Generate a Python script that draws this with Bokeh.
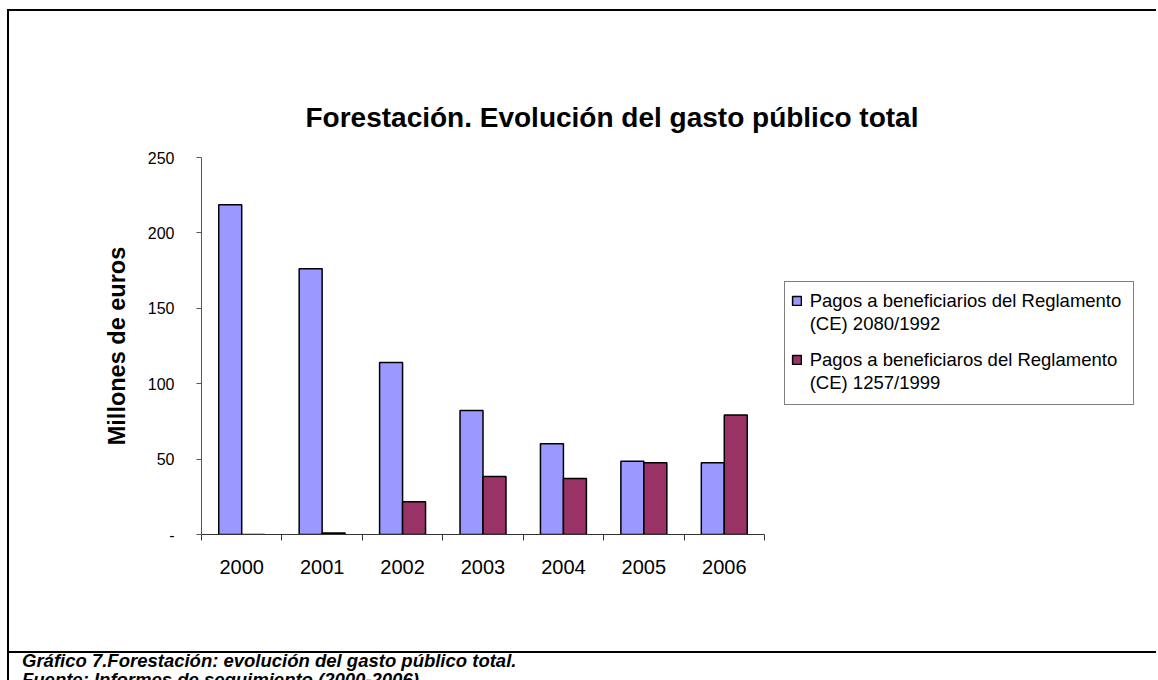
import numpy as np
from bokeh.plotting import figure
from bokeh.layouts import column
from bokeh.models import (Range1d, FixedTicker, Legend, LegendItem, Title, Div,
                          ColumnDataSource)
from bokeh.embed import file_html
from bokeh.resources import INLINE

# ---------------- data ----------------
years = ["2000", "2001", "2002", "2003", "2004", "2005", "2006"]
pagos_2080_1992 = [218.6, 176.3, 114.0, 82.2, 60.1, 48.5, 47.6]
pagos_1257_1999 = [0.0, 1.0, 21.8, 38.4, 37.1, 47.6, 79.2]
y_ticks = [0, 50, 100, 150, 200, 250]
y_tick_labels = ["-", "50", "100", "150", "200", "250"]
legend_line1 = ["Pagos a beneficiarios del Reglamento",
                "Pagos a beneficiaros del Reglamento"]
legend_line2 = ["(CE) 2080/1992", "(CE) 1257/1999"]
series_colors = ["#9999FF", "#993366"]
title_text = "Forestación. Evolución del gasto público total"
y_label = "Millones de euros"
caption_lines = ["Gráfico 7.Forestación: evolución del gasto público total.",
                 "Fuente: Informes de seguimiento (2000-2006)."]

FONT = "Liberation Sans"
W, H = 1149, 640            # canvas of the chart box
LEFT, TOP, BOTTOM = 192, 146, 117
AXIS_W = 563                # pixel length of the category axis
frame_w = W - LEFT
x_end = len(years) * frame_w / AXIS_W
bar_w = 1.0 / 3.5
centers = np.arange(len(years)) + 0.5

src = ColumnDataSource(dict(
    x1=centers - bar_w / 2, x2=centers + bar_w / 2,
    a=pagos_2080_1992, b=pagos_1257_1999))

p = figure(width=W, height=H,
           x_range=Range1d(0, x_end), y_range=Range1d(0, 250),
           output_backend="svg", toolbar_location=None,
           min_border_left=LEFT, min_border_right=0,
           min_border_top=TOP, min_border_bottom=BOTTOM,
           margin=(11, 0, 0, 9),
           styles={"box-shadow": "-2px -2px 0 0 black, -2px 2px 0 0 black"})
p.background_fill_color = "white"
p.border_fill_color = "white"
p.outline_line_color = None
p.xgrid.visible = False
p.ygrid.visible = False

r1 = p.vbar(x="x1", top="a", bottom=0, width=bar_w, source=src,
            fill_color=series_colors[0], line_color="black", line_width=1.5)
r2 = p.vbar(x="x2", top="b", bottom=0, width=bar_w, source=src,
            fill_color=series_colors[1], line_color="black", line_width=1.5)
# invisible renderer used for legend rows that carry no swatch
blank = p.vbar(x=[], top=[], width=0.1, fill_alpha=0, line_alpha=0)

# x axis: labels at category centres, ticks at category boundaries
xa = p.xaxis[0]
xa.bounds = (0, len(years))
xa.ticker = FixedTicker(ticks=list(centers), minor_ticks=list(range(len(years) + 1)))
xa.major_label_overrides = {float(c): y for c, y in zip(centers, years)}
xa.major_tick_out = 0
xa.major_tick_in = 0
xa.minor_tick_out = 6
xa.minor_tick_in = 0
xa.minor_tick_line_color = "#333333"
xa.axis_line_color = "#333333"
xa.major_label_text_font = FONT
xa.major_label_text_font_size = "20px"
xa.major_label_text_color = "black"
xa.major_label_standoff = 19

ya = p.yaxis[0]
ya.ticker = FixedTicker(ticks=y_ticks, minor_ticks=[])
ya.major_label_overrides = {t: l for t, l in zip(y_ticks, y_tick_labels)}
ya.major_tick_out = 5
ya.major_tick_in = 0
ya.major_tick_line_color = "#555555"
ya.axis_line_color = "#555555"
ya.major_label_text_font = FONT
ya.major_label_text_font_size = "16px"
ya.major_label_text_color = "black"
ya.major_label_standoff = 22
ya.axis_label = y_label
ya.axis_label_text_font = FONT
ya.axis_label_text_font_size = "23.5px"
ya.axis_label_text_font_style = "bold"
ya.axis_label_text_color = "black"
ya.axis_label_standoff = 15

# ---- legend: framed box + two text layers (first lines with swatches, second lines) ----
box = Legend(items=[LegendItem(label=" ", renderers=[blank])],
             location=(583, 129), padding=0, margin=0, spacing=0,
             glyph_width=1, glyph_height=122, label_standoff=0,
             label_width=347, label_height=20,
             border_line_color="black", border_line_width=1,
             background_fill_color="white", background_fill_alpha=1,
             label_text_font_size="1px")
p.add_layout(box, "center")


def text_layer(labels, renderers, y):
    lg = Legend(items=[LegendItem(label=t, renderers=[r]) for t, r in zip(labels, renderers)],
                location=(589.7, y), padding=0, margin=0, spacing=35,
                glyph_width=11, glyph_height=11, label_standoff=8,
                label_height=24, border_line_color=None,
                background_fill_alpha=0)
    lg.label_text_font = FONT
    lg.label_text_font_size = "18.5px"
    lg.label_text_line_height = 1.0
    lg.label_text_color = "black"
    return lg


p.add_layout(text_layer(legend_line1, [r1, r2], 162.4), "center")
p.add_layout(text_layer(legend_line2, [blank, blank], 139.4), "center")

title = Title(text=title_text, align="left", offset=104, standoff=50,
              text_font=FONT, text_font_size="28px", text_font_style="bold",
              text_color="black")
p.add_layout(title, "above")

caption = Div(text="<br>".join(caption_lines), width=W, height=29,
              margin=(0, 0, 0, 9),
              styles={"box-shadow": "-2px 0 0 0 black",
                      "padding-left": "13px",
                      "font-family": FONT,
                      "font-size": "18.5px",
                      "font-weight": "bold",
                      "font-style": "italic",
                      "line-height": "19px",
                      "color": "black",
                      "overflow": "hidden"})

layout = column(p, caption, spacing=0)
open("out.html", "w").write(file_html(layout, INLINE))
